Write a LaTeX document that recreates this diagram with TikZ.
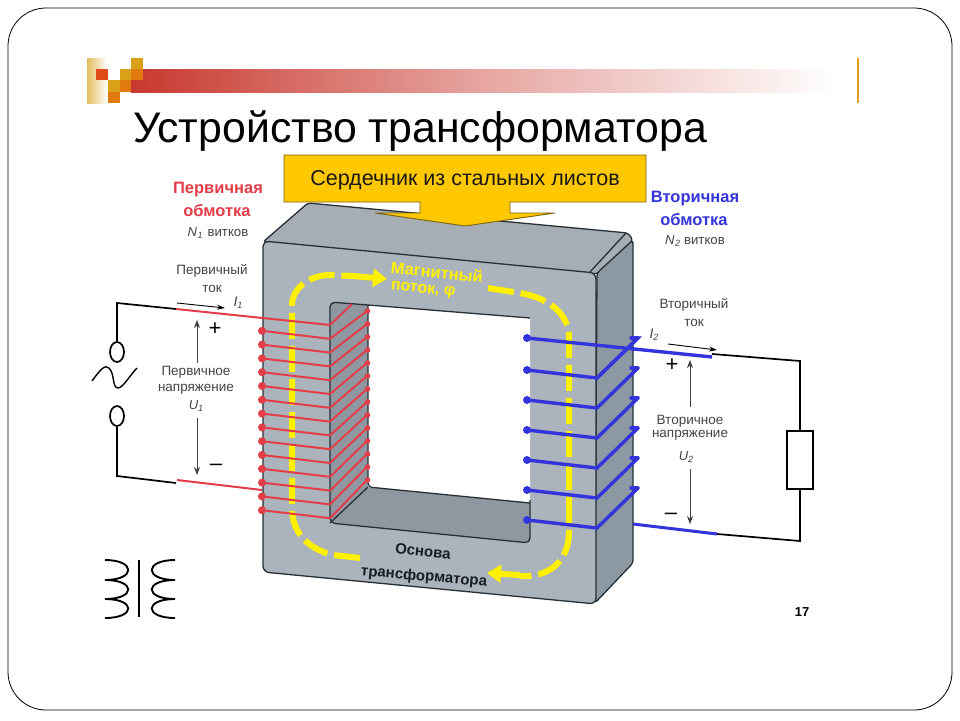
\documentclass[tikz,border=0pt]{standalone}
\usepackage{fontspec}
\setmainfont{Liberation Sans}
\usetikzlibrary{arrows.meta,calc,shapes.geometric}
\definecolor{coreFront}{HTML}{ABB3BC}
\definecolor{coreTop}{HTML}{A6ADB5}
\definecolor{coreSide}{HTML}{8C98A2}
\definecolor{coreInner}{HTML}{8F98A1}
\definecolor{coreLine}{HTML}{263036}
\definecolor{wireRed}{HTML}{E33E48}
\definecolor{wireBlue}{HTML}{3434DC}
\definecolor{fluxYel}{HTML}{FFF000}
\definecolor{calloutFill}{HTML}{FFC800}
\definecolor{calloutEdge}{HTML}{7A6410}
\definecolor{labelGrey}{HTML}{444444}
\definecolor{barRed}{HTML}{C8382E}
\definecolor{sqGold}{HTML}{D9A018}
\definecolor{sqOrange}{HTML}{E27A10}
\definecolor{sqRed}{HTML}{DE4A18}
\tikzset{
  coreEdge/.style={draw=coreLine,line width=1.3pt,line join=round},
  flux/.style={draw=fluxYel,line width=6pt},
  fluxDash/.style={flux,dash pattern=on 26pt off 7pt},
  redWire/.style={draw=wireRed,line width=2pt},
  blueWire/.style={draw=wireBlue,line width=3.4pt,line cap=round},
  blackWire/.style={draw=black,line width=1.7pt,line join=miter},
  volt/.style={draw=black!75,line width=.8pt,-{Stealth[length=8pt,width=6pt]}},
  txt/.style={inner sep=0pt,font=\fontsize{#1}{#1}\selectfont,text=labelGrey},
  head/.style={inner sep=0pt,font=\fontsize{16.5}{18}\selectfont\bfseries},
  coreText/.style={inner sep=0pt,font=\fontsize{15}{16}\selectfont\bfseries},
  sq/.style={fill=#1,draw=none}
}
\begin{document}
\begin{tikzpicture}[x=1pt,y=-1pt]
\useasboundingbox (0,0) rectangle (960,720);
\fill[white] (0,0) rectangle (960,720);
\draw[black,line width=.8pt,rounded corners=38pt] (8,8) rectangle (952,710);
% header bar
\shade[left color=barRed,right color=white,middle color=barRed!45!white] (131,69) rectangle (835,92);
\shade[left color=sqGold!70!white,right color=white] (87,58) rectangle (107,103);
\fill[sq=sqRed] (96,69) rectangle (108,80);
\fill[sq=sqGold] (120,69) rectangle (131,80);
\fill[sq=sqGold] (131,58) rectangle (143,69);
\fill[sq=sqOrange] (131,69) rectangle (143,80);
\fill[sq=sqGold] (108,80) rectangle (120,92);
\fill[sq=sqOrange] (120,80) rectangle (131,92);
\fill[sq=sqOrange] (108,92) rectangle (120,103);
\draw[sqGold,line width=2pt] (858,58) -- (858,103);
\node[anchor=center,inner sep=0pt,font=\fontsize{42.8}{46}\selectfont] (title) at (420,131) {Устройство трансформатора};
% core
\draw[coreEdge,fill=coreTop,rounded corners=3pt] (263,242) -- (308,203) -- (628,233) -- (633,240) -- (597,274) -- cycle;
\draw[coreEdge,fill=coreSide,rounded corners=3pt] (597,273) -- (633,240) -- (633,563) -- (595,603) -- cycle;
\draw[coreEdge] (590,272) -- (626,233);
\draw[coreEdge,fill=coreFront,rounded corners=6pt] (263,241) -- (596,273) -- (596,604) -- (263,572) -- cycle;
\fill[coreInner,rounded corners=4pt] (330,302) -- (530,318) -- (530,543) -- (330,523) -- cycle;
\fill[white] (368,305) -- (530,318) -- (530,503) -- (368,487) -- cycle;
\draw[coreEdge,rounded corners=5pt] (530,500) -- (530,543) -- (330,523) -- (330,302) -- (368,305);
\draw[coreEdge] (368,305) -- (530,318);
\draw[coreEdge,rounded corners=4pt] (368,305) -- (368,487) -- (530,503);
\draw[coreEdge] (330,523) -- (368,487);
% flux
\draw[fluxDash] (360,558) -- (333,555) .. controls (305,548) and (292,530) .. (292,508) -- (292,305) .. controls (292,288) and (310,275) .. (330,275) -- (353,276);
\draw[flux,-{Triangle[length=14pt,width=18pt]}] (353,276) -- (387,279);
\draw[fluxDash] (488,288) -- (520,293) .. controls (550,298) and (569,315) .. (569,337) -- (569,532) .. controls (569,560) and (550,578) .. (520,576);
\draw[flux,-{Triangle[length=14pt,width=18pt]}] (520,575) -- (487,573);
% red winding
\draw[redWire] (330,325) -- (352,304);
\foreach \i in {0,...,14}{
  \pgfmathsetmacro{\yr}{325+13.8*\i}
  \pgfmathsetmacro{\yl}{\yr-8}
  \pgfmathsetmacro{\yd}{\yr-27-0.8*\i}
  \ifnum\i>0
    \draw[redWire] (330,\yr) -- (367,\yd);
    \fill[wireRed] (367.5,\yd) circle (2.8pt);
    \draw[redWire] (262,\yl) -- (330,\yr);
    \fill[wireRed] (262,\yl) circle (4pt);
  \fi
}
\coordinate (redTop) at (330,325);
\coordinate (redLow) at (262,490);
% blue winding
\foreach \yy in {370,400,430,460,490,520}{
  \pgfmathsetmacro{\ya}{\yy+8}
  \pgfmathsetmacro{\yb}{\yy-32}
  \draw[blueWire] (527,\yy) -- (597,\ya) -- (638,\yb);
  \fill[wireBlue] (527,\yy) circle (4pt);
  \draw[blueWire] (638,\yb) -- (631,\yb);
}
\fill[wireBlue] (527,338) circle (4pt);
% nodes of the circuit
\node[draw=black,line width=1.7pt,ellipse,minimum width=14pt,minimum height=20pt,inner sep=0pt,fill=white] (srcA) at (117,352) {};
\node[draw=black,line width=1.7pt,ellipse,minimum width=14pt,minimum height=20pt,inner sep=0pt,fill=white] (srcB) at (117,416) {};
\node[draw=black,line width=1.7pt,rectangle,minimum width=26pt,minimum height=58pt,inner sep=0pt,fill=white] (load) at (800,460) {};
\coordinate (p1) at (176,309);
\coordinate (p2) at (176,483);
\coordinate (s1) at (712,354);
\coordinate (s1b) at (712,357);
\coordinate (s2) at (717,534);
\draw[blackWire] (p1) -- (117,303) -- (srcA.north);
\draw[blackWire] (srcB.south) -- (117,476) -- (p2);
\draw[blackWire] (s1) -- (800,361) -- (load.north);
\draw[blackWire] (load.south) -- (800,541) -- (s2);
\draw[redWire] (p1) -- (redTop);
\draw[redWire] (177,480) -- (redLow);
\draw[blueWire,line cap=butt] (527,338) -- (s1b);
\draw[blueWire] (597,378) -- (638,338) -- (631,338);
\draw[blueWire,line cap=butt,line width=3pt] (633,524) -- (s2);
% sine
\draw[black,line width=1.4pt] (92,381) .. controls (100,370) and (105,364) .. (109,368) .. controls (115,374) and (112,388) .. (118,388) .. controls (123,388) and (130,375) .. (137,368);
% transformer symbol
\draw[black,line width=2.8pt] (139,560) -- (139,617);
\foreach \ya/\yb in {560/580,580/599,599/618}{
  \draw[black,line width=1.9pt] (105,\ya) .. controls (136,\ya) and (136,\yb) .. (105,\yb);
  \draw[black,line width=1.9pt] (175,\ya) .. controls (144,\ya) and (144,\yb) .. (175,\yb);
}
% current and voltage arrows
\coordinate (ia) at (177,303); \coordinate (ib) at (225,308);
\coordinate (ic) at (668,344); \coordinate (id) at (717,350);
\draw[black,line width=.9pt,-{Stealth[length=8pt,width=5pt]}] (ia) -- (ib);
\draw[black,line width=.9pt,-{Stealth[length=8pt,width=5pt]}] (ic) -- (id);
% callout
\draw[draw=calloutEdge,fill=calloutFill,line width=.9pt] (284,155) -- (646,155) -- (646,202) -- (510,202) -- (510,213) -- (555,213) -- (465,226) -- (375,213) -- (420,213) -- (420,202) -- (284,202) -- cycle;
\node[inner sep=0pt,font=\fontsize{21.5}{23}\selectfont,text=black!90] (callout) at (465,180) {Сердечник из стальных листов};
% labels, left
\node[head,text=wireRed] (l1) at (218,190) {Первичная};
\node[head,text=wireRed] (l2) at (217,211) {обмотка};
\node[txt=13.2] (l3) at (218,233) {\fontsize{13}{13}\selectfont\itshape N\kern.5pt\raisebox{-2pt}{\fontsize{9}{9}\selectfont 1}\kern5pt\upshape\fontsize{13.2}{13.2}\selectfont витков};
\node[txt=13.5] (l4) at (212,271) {Первичный};
\node[txt=13.5] (l5) at (212,289) {ток};
\node[txt=14] (l6) at (238,303) {\itshape I\raisebox{-2pt}{\fontsize{9}{9}\selectfont 1}};
\node[txt=13.5] (l7) at (196,372) {Первичное};
\node[txt=13.5] (l8) at (196,389) {напряжение};
\node[txt=13] (l9) at (196,406) {\itshape U\raisebox{-2pt}{\fontsize{9}{9}\selectfont 1}};
\node[inner sep=0pt,font=\fontsize{22}{22}\selectfont] (plusA) at (215,329) {+};
\node[inner sep=0pt,font=\fontsize{22}{22}\selectfont] (minusA) at (216,467) {–};
\coordinate (va) at (197,363); \coordinate (vb) at (197,320);
\coordinate (vc) at (197,418); \coordinate (vd) at (197,475);
\draw[volt] (va) -- (vb);
\draw[volt] (vc) -- (vd);
% labels, right
\node[head,text=wireBlue] (r1) at (695,199) {Вторичная};
\node[head,text=wireBlue] (r2) at (694,220) {обмотка};
\node[txt=13.2] (r3) at (695,241) {\fontsize{13}{13}\selectfont\itshape N\kern.5pt\raisebox{-2pt}{\fontsize{9}{9}\selectfont 2}\kern4pt\upshape\fontsize{13.2}{13.2}\selectfont витков};
\node[txt=13.5] (r4) at (694,305) {Вторичный};
\node[txt=13.5] (r5) at (694,323) {ток};
\node[txt=14] (r6) at (654,335) {\itshape I\raisebox{-2pt}{\fontsize{9}{9}\selectfont 2}};
\node[txt=13.5] (r7) at (690,421) {Вторичное};
\node[txt=13.5] (r8) at (690,435) {напряжение};
\node[txt=13] (r9) at (686,457) {\itshape U\raisebox{-2pt}{\fontsize{9}{9}\selectfont 2}};
\node[inner sep=0pt,font=\fontsize{22}{22}\selectfont] (plusB) at (672,365) {+};
\node[inner sep=0pt,font=\fontsize{22}{22}\selectfont] (minusB) at (671,516) {–};
\coordinate (vf) at (690,407); \coordinate (ve) at (690,360);
\coordinate (vg) at (690,469); \coordinate (vh) at (690,524);
\draw[volt] (vf) -- (ve);
\draw[volt] (vg) -- (vh);
% core labels
\node[coreText,text=fluxYel,rotate=-6,font=\fontsize{16.5}{17}\selectfont\bfseries] (m1) at (437,272) {Магнитный};
\node[coreText,text=fluxYel,rotate=-6,font=\fontsize{16}{17}\selectfont\bfseries] (m2) at (423,290) {поток, φ};
\node[coreText,text=coreLine!60!black,rotate=-6] (o1) at (423,551) {Основа};
\node[coreText,text=coreLine!60!black,rotate=-5] (o2) at (424,577) {трансформатора};
\node[inner sep=0pt,font=\fontsize{13}{13}\selectfont\bfseries] (pg) at (802,612) {17};
\end{tikzpicture}
\end{document}
